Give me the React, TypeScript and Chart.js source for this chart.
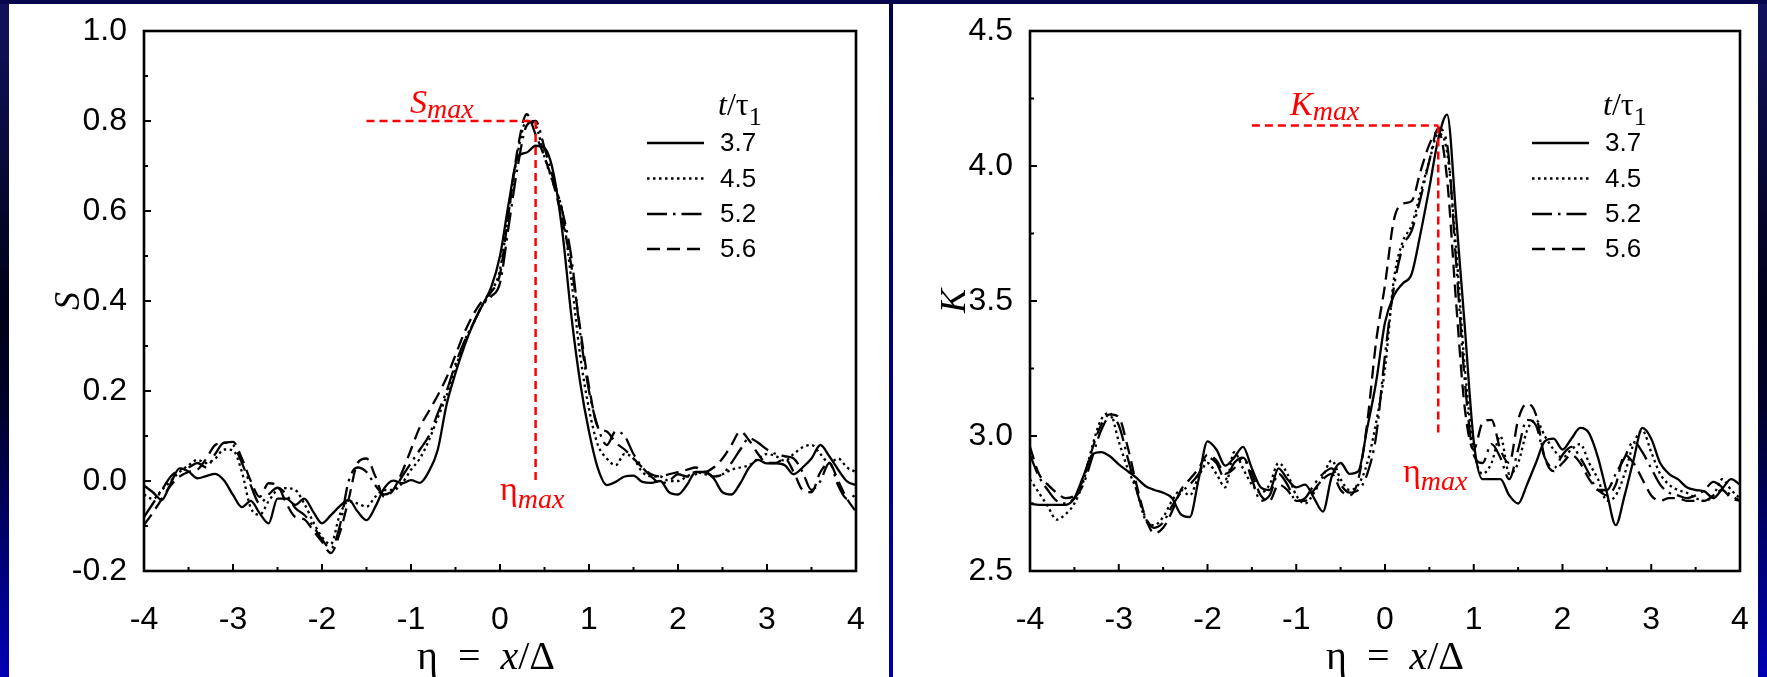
import { useEffect, useRef } from "react";
import { Chart, registerables } from "chart.js";

Chart.register(...registerables);

// ---------- data ----------
const ETA = [
  -4.0, -3.9, -3.8, -3.7, -3.6, -3.5, -3.4, -3.3, -3.2, -3.1,
  -3.0, -2.9, -2.8, -2.7, -2.6, -2.5, -2.4, -2.3, -2.2, -2.1,
  -2.0, -1.9, -1.8, -1.7, -1.6, -1.5, -1.4, -1.3, -1.2, -1.1,
  -1.0, -0.9, -0.8, -0.7, -0.6, -0.5, -0.4, -0.3, -0.2, -0.1,
  0.0, 0.1, 0.2, 0.3, 0.4, 0.5, 0.6, 0.7, 0.8, 0.9,
  1.0, 1.1, 1.2, 1.3, 1.4, 1.5, 1.6, 1.7, 1.8, 1.9,
  2.0, 2.1, 2.2, 2.3, 2.4, 2.5, 2.6, 2.7, 2.8, 2.9,
  3.0, 3.1, 3.2, 3.3, 3.4, 3.5, 3.6, 3.7, 3.8, 3.9,
  4.0,
];

const SERIES_LABELS = ["3.7", "4.5", "5.2", "5.6"];

const S_37 = [
  -0.010, -0.025, -0.042, -0.005, 0.028, 0.021, 0.006, 0.011, 0.016, 0.001,
  -0.031, -0.058, -0.044, -0.072, -0.094, -0.039, -0.039, -0.053, -0.039, -0.068,
  -0.094, -0.076, -0.056, -0.042, -0.068, -0.087, -0.057, -0.016, 0.001, -0.005,
  0.002, -0.004, 0.021, 0.069, 0.170, 0.240, 0.300, 0.350, 0.390, 0.430,
  0.500, 0.620, 0.720, 0.730, 0.745, 0.740, 0.685, 0.555, 0.370, 0.220,
  0.110, 0.028, -0.009, -0.002, 0.010, 0.012, -0.002, -0.004, 0.000, -0.025,
  -0.030, -0.009, 0.020, 0.020, 0.006, -0.025, -0.030, -0.005, 0.030, 0.047,
  0.039, 0.039, 0.035, 0.015, 0.030, 0.050, 0.080, 0.055, 0.025, -0.001,
  -0.009,
];
const S_45 = [
  -0.030, -0.040, -0.020, 0.000, 0.020, 0.035, 0.047, 0.040, 0.050, 0.070,
  0.068, 0.020, -0.060, -0.075, -0.045, -0.020, -0.016, -0.020, -0.050, -0.090,
  -0.125, -0.140, -0.075, -0.045, -0.050, -0.057, -0.035, -0.020, -0.020, -0.005,
  0.025, 0.050, 0.090, 0.140, 0.190, 0.250, 0.310, 0.350, 0.390, 0.420,
  0.470, 0.600, 0.730, 0.800, 0.790, 0.720, 0.660, 0.600, 0.450, 0.280,
  0.160, 0.080, 0.050, 0.035, 0.060, 0.050, 0.020, 0.010, 0.010, 0.000,
  0.000, 0.010, 0.020, 0.015, 0.010, 0.015, 0.025, 0.030, 0.035, 0.050,
  0.060, 0.055, 0.045, 0.060, 0.075, 0.080, 0.060, 0.040, 0.050, 0.030,
  0.020,
];
const S_52 = [
  -0.080, -0.050, -0.020, 0.010, 0.025, 0.030, 0.040, 0.030, 0.060, 0.085,
  0.080, 0.040, -0.010, -0.050, -0.030, -0.015, -0.030, -0.060, -0.075, -0.100,
  -0.130, -0.150, -0.100, 0.000, 0.030, 0.020, -0.010, -0.030, -0.020, 0.010,
  0.040, 0.070, 0.100, 0.150, 0.200, 0.260, 0.310, 0.350, 0.390, 0.410,
  0.440, 0.570, 0.700, 0.790, 0.800, 0.740, 0.670, 0.600, 0.500, 0.330,
  0.200, 0.120, 0.080, 0.110, 0.100, 0.060, 0.030, 0.010, -0.005, 0.000,
  0.015, 0.010, 0.015, 0.020, 0.010, 0.015, 0.040, 0.070, 0.095, 0.085,
  0.070, 0.060, 0.055, 0.050, 0.020, -0.020, 0.000, 0.040, -0.010, -0.040,
  -0.030,
];
const S_56 = [
  -0.098, -0.070, -0.040, -0.010, 0.010, 0.020, 0.025, 0.050, 0.080, 0.085,
  0.087, 0.050, 0.000, -0.035, -0.005, -0.010, -0.050, -0.080, -0.085, -0.110,
  -0.135, -0.160, -0.115, -0.040, 0.040, 0.050, 0.010, -0.035, -0.020, 0.020,
  0.070, 0.120, 0.155, 0.190, 0.230, 0.280, 0.330, 0.370, 0.400, 0.420,
  0.460, 0.600, 0.740, 0.815, 0.770, 0.720, 0.660, 0.580, 0.480, 0.340,
  0.210, 0.120, 0.110, 0.085, 0.070, 0.050, 0.030, 0.015, 0.010, 0.015,
  0.020, 0.025, 0.030, 0.020, 0.030, 0.050, 0.080, 0.110, 0.090, 0.060,
  0.040, 0.040, 0.050, 0.020, -0.020, -0.025, 0.020, 0.040, 0.000, -0.040,
  -0.068,
];

const K_37 = [
  2.750, 2.745, 2.745, 2.745, 2.745, 2.770, 2.850, 2.930, 2.940, 2.925,
  2.895, 2.870, 2.845, 2.815, 2.800, 2.790, 2.770, 2.710, 2.700, 2.840,
  2.980, 2.950, 2.890, 2.920, 2.960, 2.880, 2.810, 2.800, 2.880, 2.840,
  2.810, 2.820, 2.770, 2.720, 2.850, 2.900, 2.860, 2.870, 3.030, 3.200,
  3.420, 3.520, 3.565, 3.600, 3.750, 3.920, 4.100, 4.190, 3.820, 3.400,
  2.980, 2.840, 2.840, 2.840, 2.780, 2.750, 2.820, 2.900, 2.980, 2.990,
  2.950, 2.990, 3.030, 3.010, 2.920, 2.790, 2.670, 2.780, 2.910, 3.030,
  2.990, 2.900, 2.860, 2.840, 2.810, 2.800, 2.795, 2.770, 2.805, 2.840,
  2.820,
];
const K_45 = [
  2.84, 2.79, 2.74, 2.69, 2.71, 2.75, 2.83, 2.96, 3.06, 3.085,
  2.98, 2.88, 2.80, 2.69, 2.67, 2.70, 2.76, 2.80, 2.78, 2.85,
  2.90, 2.86, 2.81, 2.94, 2.88, 2.82, 2.79, 2.82, 2.90, 2.86,
  2.78, 2.75, 2.79, 2.85, 2.91, 2.84, 2.80, 2.82, 2.90, 3.05,
  3.25, 3.58, 3.72, 3.78, 3.90, 4.02, 4.12, 4.05, 3.70, 3.25,
  2.95, 2.86, 2.90, 3.00, 2.86, 2.90, 3.02, 3.06, 3.00, 2.95,
  2.92, 2.95, 2.97, 2.90, 2.84, 2.76, 2.78, 2.86, 2.97, 3.02,
  2.94, 2.86, 2.82, 2.80, 2.79, 2.77, 2.76, 2.78, 2.84, 2.80,
  2.77,
];
const K_52 = [
  2.93, 2.85, 2.80, 2.76, 2.75, 2.77, 2.82, 2.92, 3.02, 3.07,
  3.04, 2.92, 2.80, 2.70, 2.66, 2.68, 2.74, 2.79, 2.82, 2.86,
  2.92, 2.90, 2.84, 2.90, 2.92, 2.84, 2.76, 2.78, 2.86, 2.82,
  2.76, 2.77, 2.82, 2.86, 2.88, 2.82, 2.79, 2.80, 2.86, 3.00,
  3.30, 3.55, 3.70, 3.76, 3.88, 4.02, 4.14, 4.08, 3.65, 3.20,
  2.93, 2.90, 2.97, 2.92, 2.84, 2.95, 3.06, 3.04, 2.92, 2.88,
  2.93, 2.96, 2.92, 2.86, 2.80, 2.80, 2.86, 2.92, 2.98, 2.94,
  2.88, 2.82, 2.79, 2.78, 2.77, 2.78, 2.80, 2.83, 2.81, 2.78,
  2.76,
];
const K_56 = [
  2.96, 2.86, 2.82, 2.79, 2.77, 2.78, 2.84, 2.95, 3.04, 3.08,
  3.07, 2.96, 2.82, 2.70, 2.64, 2.66, 2.72, 2.80, 2.84, 2.88,
  2.93, 2.91, 2.86, 2.88, 2.92, 2.86, 2.78, 2.76, 2.82, 2.80,
  2.76, 2.76, 2.80, 2.84, 2.86, 2.80, 2.78, 2.84, 3.05, 3.35,
  3.56, 3.80, 3.86, 3.87, 3.98, 4.08, 4.13, 3.95, 3.50, 3.10,
  2.95, 3.05, 3.06, 2.95, 2.90, 3.06, 3.12, 3.08, 2.92, 2.87,
  2.90, 2.93, 2.90, 2.84, 2.80, 2.78, 2.82, 2.93, 2.90, 2.84,
  2.78, 2.76, 2.77, 2.77, 2.76, 2.76, 2.76, 2.78, 2.80, 2.77,
  2.76,
];

const ETA_TICKS = [-4, -3, -2, -1, 0, 1, 2, 3, 4];
const ETA_TICK_LABELS = ["-4", "-3", "-2", "-1", "0", "1", "2", "3", "4"];
const S_TICKS = [-0.2, 0, 0.2, 0.4, 0.6, 0.8, 1.0];
const S_TICK_LABELS = ["-0.2", "0.0", "0.2", "0.4", "0.6", "0.8", "1.0"];
const K_TICKS = [2.5, 3.0, 3.5, 4.0, 4.5];
const K_TICK_LABELS = ["2.5", "3.0", "3.5", "4.0", "4.5"];

// reference markers (peak value, peak location, start of horizontal line, end of vertical line)
const S_MARK = [0.8, 0.4, -1.5, 0.0];
const K_MARK = [4.15, 0.6, -1.5, 3.0];

// ---------- styling ----------
const SERIF = "'Liberation Serif', 'Times New Roman', serif";
const SANS = "'Liberation Sans', Arial, sans-serif";
const DASHES: number[][] = [[], [2.5, 3.5], [20, 6, 2.5, 6], [13, 7]];

type Run = { t: string; font: string; dy?: number };

function drawRuns(ctx: CanvasRenderingContext2D, x: number, y: number, runs: Run[]) {
  let cx = x;
  for (const r of runs) {
    ctx.font = r.font;
    ctx.fillText(r.t, cx, y + (r.dy || 0));
    cx += ctx.measureText(r.t).width;
  }
}

interface PanelSpec {
  series: number[][];
  yMin: number;
  yMax: number;
  yTicks: number[];
  yTickLabels: string[];
  mark: number[];
  peakSymbol: string;
  peakLabelAt: [number, number];
  etaLabelAt: [number, number];
  yTitle: string;
  yTitleAt: [number, number];
  xTitleAt: [number, number];
  yAxisWidth: number;
  padRight: number;
  legend: { x0: number; x1: number; textX: number; titleX: number; titleY: number; rows: number[] };
}

function makeOverlay(p: PanelSpec) {
  return {
    id: "overlay",
    afterDatasetsDraw(chart: any) {
      const ctx: CanvasRenderingContext2D = chart.ctx;
      const a = chart.chartArea;
      const xs = chart.scales.x;
      const ys = chart.scales.y;
      ctx.save();

      // red reference lines
      const [peak, etaMax, refStart, refEnd] = p.mark;
      ctx.strokeStyle = "#ff0000";
      ctx.lineWidth = 2.5;
      ctx.setLineDash([8, 5]);
      ctx.beginPath();
      ctx.moveTo(xs.getPixelForValue(refStart), ys.getPixelForValue(peak));
      ctx.lineTo(xs.getPixelForValue(etaMax), ys.getPixelForValue(peak));
      ctx.stroke();
      ctx.beginPath();
      ctx.moveTo(xs.getPixelForValue(etaMax), ys.getPixelForValue(peak));
      ctx.lineTo(xs.getPixelForValue(etaMax), ys.getPixelForValue(refEnd));
      ctx.stroke();
      ctx.setLineDash([]);

      // red labels
      ctx.fillStyle = "#ff0000";
      ctx.textBaseline = "alphabetic";
      ctx.textAlign = "left";
      drawRuns(ctx, p.peakLabelAt[0], p.peakLabelAt[1], [
        { t: p.peakSymbol, font: `italic 34px ${SERIF}` },
        { t: "max", font: `italic 28px ${SERIF}`, dy: 5 },
      ]);
      drawRuns(ctx, p.etaLabelAt[0], p.etaLabelAt[1], [
        { t: "\u03b7", font: `34px ${SERIF}` },
        { t: "max", font: `italic 28px ${SERIF}`, dy: 8 },
      ]);

      // frame
      ctx.strokeStyle = "#000";
      ctx.lineWidth = 2.6;
      ctx.strokeRect(a.left, a.top, a.right - a.left, a.bottom - a.top);

      // inward ticks
      ctx.lineWidth = 2;
      ctx.beginPath();
      for (let i = 0; i < p.yTicks.length; i++) {
        const y = ys.getPixelForValue(p.yTicks[i]);
        ctx.moveTo(a.left, y);
        ctx.lineTo(a.left + 7, y);
        if (i < p.yTicks.length - 1) {
          const ym = ys.getPixelForValue((p.yTicks[i] + p.yTicks[i + 1]) / 2);
          ctx.moveTo(a.left, ym);
          ctx.lineTo(a.left + 4, ym);
        }
      }
      for (let i = 0; i < ETA_TICKS.length; i++) {
        const x = xs.getPixelForValue(ETA_TICKS[i]);
        ctx.moveTo(x, a.bottom);
        ctx.lineTo(x, a.bottom - 7);
        if (i < ETA_TICKS.length - 1) {
          const xm = xs.getPixelForValue((ETA_TICKS[i] + ETA_TICKS[i + 1]) / 2);
          ctx.moveTo(xm, a.bottom);
          ctx.lineTo(xm, a.bottom - 4);
        }
      }
      ctx.stroke();

      // legend
      const L = p.legend;
      ctx.fillStyle = "#000";
      drawRuns(ctx, L.titleX, L.titleY, [
        { t: "t", font: `italic 32px ${SERIF}` },
        { t: "/\u03c4", font: `32px ${SERIF}` },
        { t: "1", font: `26px ${SERIF}`, dy: 10 },
      ]);
      ctx.textBaseline = "middle";
      for (let i = 0; i < SERIES_LABELS.length; i++) {
        const y = L.rows[i];
        ctx.lineWidth = 2.3;
        ctx.setLineDash(DASHES[i]);
        ctx.beginPath();
        ctx.moveTo(L.x0, y);
        ctx.lineTo(L.x1, y);
        ctx.stroke();
        ctx.setLineDash([]);
        ctx.font = `26px ${SANS}`;
        ctx.fillText(SERIES_LABELS[i], L.textX, y + 1);
      }

      // axis titles
      ctx.textBaseline = "alphabetic";
      drawRuns(ctx, p.xTitleAt[0], p.xTitleAt[1], [
        { t: "\u03b7  =  ", font: `40px ${SERIF}` },
        { t: "x", font: `italic 40px ${SERIF}` },
        { t: "/\u0394", font: `40px ${SERIF}` },
      ]);
      ctx.save();
      ctx.translate(p.yTitleAt[0], p.yTitleAt[1]);
      ctx.rotate(-Math.PI / 2);
      ctx.textAlign = "center";
      ctx.textBaseline = "middle";
      ctx.font = `italic 36px ${SERIF}`;
      ctx.fillText(p.yTitle, 0, 0);
      ctx.restore();

      ctx.restore();
    },
  };
}

function zeroPadding(s: any) {
  s.paddingLeft = 0;
  s.paddingRight = 0;
  s.paddingTop = 0;
  s.paddingBottom = 0;
}

function Panel({ spec, width, height }: { spec: PanelSpec; width: number; height: number }) {
  const ref = useRef<HTMLCanvasElement>(null);
  useEffect(() => {
    if (!ref.current) return;
    const chart = new Chart(ref.current, {
      type: "line",
      data: {
        datasets: spec.series.map((vals, i) => ({
          label: SERIES_LABELS[i],
          data: ETA.map((x, j) => ({ x, y: vals[j] })),
          borderColor: "#000",
          borderWidth: 2.3,
          borderDash: DASHES[i],
          pointRadius: 0,
          cubicInterpolationMode: "monotone",
          fill: false,
        })),
      },
      options: {
        animation: false,
        responsive: false,
        maintainAspectRatio: false,
        events: [],
        layout: { padding: { left: 0, right: spec.padRight, top: 27, bottom: 0 } },
        plugins: { legend: { display: false }, tooltip: { enabled: false } },
        scales: {
          x: {
            type: "linear",
            min: -4,
            max: 4,
            grid: { display: false, drawTicks: false },
            border: { display: false },
            afterBuildTicks: (s: any) => {
              s.ticks = ETA_TICKS.map((v) => ({ value: v }));
            },
            afterFit: (s: any) => {
              s.height = 106;
              zeroPadding(s);
            },
            ticks: {
              color: "#000",
              padding: 30,
              maxRotation: 0,
              autoSkip: false,
              font: { family: SANS, size: 32 },
              callback: (_v: any, i: number) => ETA_TICK_LABELS[i],
            },
          },
          y: {
            type: "linear",
            min: spec.yMin,
            max: spec.yMax,
            grid: { display: false, drawTicks: false },
            border: { display: false },
            afterBuildTicks: (s: any) => {
              s.ticks = spec.yTicks.map((v) => ({ value: v }));
            },
            afterFit: (s: any) => {
              s.width = spec.yAxisWidth;
              zeroPadding(s);
            },
            ticks: {
              color: "#000",
              padding: 17,
              autoSkip: false,
              font: { family: SANS, size: 32 },
              callback: (_v: any, i: number) => spec.yTickLabels[i],
            },
          },
        },
      },
      plugins: [makeOverlay(spec)],
    } as any);
    return () => chart.destroy();
  }, [spec]);
  return <canvas ref={ref} width={width} height={height} style={{ display: "block" }} />;
}

const LEFT_SPEC: PanelSpec = {
  series: [S_37, S_45, S_52, S_56],
  yMin: -0.2,
  yMax: 1.0,
  yTicks: S_TICKS,
  yTickLabels: S_TICK_LABELS,
  mark: S_MARK,
  peakSymbol: "S",
  peakLabelAt: [401, 109],
  etaLabelAt: [491, 496],
  yTitle: "S",
  yTitleAt: [61, 297],
  xTitleAt: [408, 665],
  yAxisWidth: 135,
  padRight: 33,
  legend: { x0: 638, x1: 695, textX: 711, titleX: 709, titleY: 111, rows: [139, 174.5, 210, 245] },
};

const RIGHT_SPEC: PanelSpec = {
  series: [K_37, K_45, K_52, K_56],
  yMin: 2.5,
  yMax: 4.5,
  yTicks: K_TICKS,
  yTickLabels: K_TICK_LABELS,
  mark: K_MARK,
  peakSymbol: "K",
  peakLabelAt: [397, 111],
  etaLabelAt: [510, 478],
  yTitle: "K",
  yTitleAt: [63, 297],
  xTitleAt: [433, 665],
  yAxisWidth: 137,
  padRight: 18,
  legend: { x0: 639, x1: 696, textX: 712, titleX: 710, titleY: 111, rows: [139, 174.5, 210, 245] },
};

export default function App() {
  return (
    <div
      style={{
        position: "fixed",
        left: 0,
        top: 0,
        width: 1767,
        height: 677,
        overflow: "hidden",
        background: "linear-gradient(180deg, #12125e 0%, #000018 45%, #00002a 60%, #0000b4 100%)",
      }}
    >
      <div style={{ position: "absolute", left: 0, top: 0, width: 1767, height: 4, background: "#06064c" }} />
      <div
        style={{
          position: "absolute",
          left: 889,
          top: 4,
          width: 4,
          height: 673,
          background: "linear-gradient(180deg, #00004e 0%, #0000a8 100%)",
        }}
      />
      <div style={{ position: "absolute", left: 9, top: 4, width: 880, height: 673, background: "#fff" }}>
        <Panel spec={LEFT_SPEC} width={880} height={673} />
      </div>
      <div style={{ position: "absolute", left: 893, top: 4, width: 865, height: 673, background: "#fff" }}>
        <Panel spec={RIGHT_SPEC} width={865} height={673} />
      </div>
    </div>
  );
}
